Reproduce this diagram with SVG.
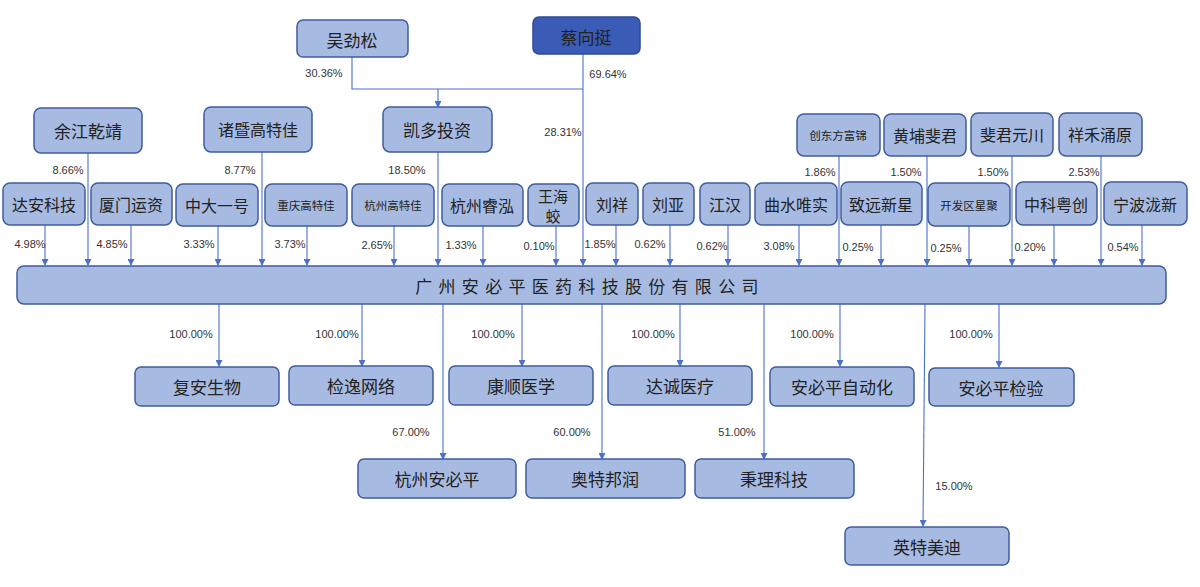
<svg xmlns="http://www.w3.org/2000/svg" width="1200" height="587" viewBox="0 0 1200 587">
<style>
.n{fill:#a7bbe2;stroke:#3f5c9c;stroke-width:1.5}
.d{fill:#3b5cb6;stroke:#2f4a94;stroke-width:1.5}
.t{font-family:"Noto Sans CJK SC","Noto Sans",sans-serif;font-size:16px;fill:#222;text-anchor:middle;dominant-baseline:central}
.s{font-size:11.5px}
.b{font-size:17px}
.w{font-size:15px}
.p{font-family:"Liberation Sans","Noto Sans",sans-serif;font-size:11px;fill:#333;text-anchor:middle;dominant-baseline:central}
.c line,.c polyline{stroke:#4a72c8;stroke-width:1.1;fill:none}
.a{marker-end:url(#ar)}
</style>
<defs>
<marker id="ar" markerUnits="userSpaceOnUse" markerWidth="7" markerHeight="7" refX="6" refY="3.5" orient="auto">
<path d="M0,0 L7,3.5 L0,7 z" fill="#4a72c8"/>
</marker>
</defs>
<rect width="1200" height="587" fill="#fff"/>

<g class="c" id="connectors">
<polyline points="352,57 352,89 583,89"/>
<line x1="438" y1="89" x2="438" y2="107" class="a"/>
<line x1="583" y1="54" x2="583" y2="265" class="a"/>
<line x1="88" y1="153" x2="88" y2="265" class="a"/>
<line x1="262" y1="152" x2="262" y2="265" class="a"/>
<line x1="438" y1="152" x2="438" y2="265" class="a"/>
<line x1="839" y1="156" x2="839" y2="265" class="a"/>
<line x1="927" y1="156" x2="927" y2="265" class="a"/>
<line x1="1012" y1="156" x2="1012" y2="265" class="a"/>
<line x1="1101" y1="156" x2="1101" y2="265" class="a"/>
<line x1="45" y1="225" x2="45" y2="265" class="a"/>
<line x1="131" y1="225" x2="131" y2="265" class="a"/>
<line x1="218" y1="225" x2="218" y2="265" class="a"/>
<line x1="307" y1="225" x2="307" y2="265" class="a"/>
<line x1="394" y1="225" x2="394" y2="265" class="a"/>
<line x1="483" y1="225" x2="483" y2="265" class="a"/>
<line x1="556" y1="225" x2="556" y2="265" class="a"/>
<line x1="616" y1="225" x2="616" y2="265" class="a"/>
<line x1="670" y1="225" x2="670" y2="265" class="a"/>
<line x1="728" y1="225" x2="728" y2="265" class="a"/>
<line x1="799" y1="225" x2="799" y2="265" class="a"/>
<line x1="881" y1="225" x2="881" y2="265" class="a"/>
<line x1="969" y1="225" x2="969" y2="265" class="a"/>
<line x1="1054" y1="225" x2="1054" y2="265" class="a"/>
<line x1="1142" y1="225" x2="1142" y2="265" class="a"/>
<line x1="219" y1="304" x2="219" y2="366" class="a"/>
<line x1="362" y1="304" x2="362" y2="366" class="a"/>
<line x1="522" y1="304" x2="522" y2="366" class="a"/>
<line x1="680" y1="304" x2="680" y2="366" class="a"/>
<line x1="840" y1="304" x2="840" y2="366" class="a"/>
<line x1="999" y1="304" x2="999" y2="367" class="a"/>
<line x1="443" y1="304" x2="443" y2="459" class="a"/>
<line x1="602" y1="304" x2="602" y2="459" class="a"/>
<line x1="764" y1="304" x2="764" y2="459" class="a"/>
<line x1="925" y1="304" x2="923" y2="526" class="a"/>
<g id="labels">
<text class="p" x="324" y="73">30.36%</text>
<text class="p" x="608" y="74">69.64%</text>
<text class="p" x="563" y="132">28.31%</text>
<text class="p" x="68" y="170">8.66%</text>
<text class="p" x="240" y="170">8.77%</text>
<text class="p" x="407" y="170">18.50%</text>
<text class="p" x="820" y="172">1.86%</text>
<text class="p" x="906" y="172">1.50%</text>
<text class="p" x="993" y="172">1.50%</text>
<text class="p" x="1084" y="172">2.53%</text>
<text class="p" x="30" y="244">4.98%</text>
<text class="p" x="112" y="244">4.85%</text>
<text class="p" x="199" y="244">3.33%</text>
<text class="p" x="290" y="244">3.73%</text>
<text class="p" x="377" y="245">2.65%</text>
<text class="p" x="461" y="245">1.33%</text>
<text class="p" x="539" y="246">0.10%</text>
<text class="p" x="600" y="244">1.85%</text>
<text class="p" x="650" y="244">0.62%</text>
<text class="p" x="712" y="246">0.62%</text>
<text class="p" x="779" y="246">3.08%</text>
<text class="p" x="858" y="247">0.25%</text>
<text class="p" x="946" y="248">0.25%</text>
<text class="p" x="1030" y="247">0.20%</text>
<text class="p" x="1123" y="247">0.54%</text>
<text class="p" x="191" y="334">100.00%</text>
<text class="p" x="337" y="334">100.00%</text>
<text class="p" x="493" y="334">100.00%</text>
<text class="p" x="653" y="334">100.00%</text>
<text class="p" x="812" y="334">100.00%</text>
<text class="p" x="971" y="334">100.00%</text>
<text class="p" x="411" y="432">67.00%</text>
<text class="p" x="572" y="432">60.00%</text>
<text class="p" x="737" y="432">51.00%</text>
<text class="p" x="954" y="486">15.00%</text>
</g>
</g>

<g id="n-wujinsong"><rect class="n" x="297" y="20" width="111" height="37" rx="6"/><text class="t b" x="352" y="39">吴劲松</text></g>
<g id="n-caixiangting"><rect class="d" x="533" y="17" width="107" height="37" rx="6"/><text class="t b" x="586" y="36">蔡向挺</text></g>
<g id="n-yujiang"><rect class="n" x="34" y="108" width="108" height="45" rx="7"/><text class="t b" x="88" y="130">余江乾靖</text></g>
<g id="n-zhuji"><rect class="n" x="204" y="107" width="108" height="45" rx="7"/><text class="t" x="258" y="129">诸暨高特佳</text></g>
<g id="n-kaiduo"><rect class="n" x="383" y="107" width="109" height="45" rx="7"/><text class="t b" x="437" y="129">凯多投资</text></g>
<g id="n-chuangdong"><rect class="n" x="797" y="114" width="83" height="42" rx="7"/><text class="t s" x="838" y="135">创东方富锦</text></g>
<g id="n-huangpu"><rect class="n" x="884" y="114" width="82" height="42" rx="7"/><text class="t" x="925" y="135">黄埔斐君</text></g>
<g id="n-feijun"><rect class="n" x="971" y="113" width="82" height="43" rx="7"/><text class="t" x="1012" y="134">斐君元川</text></g>
<g id="n-xianghe"><rect class="n" x="1059" y="113" width="83" height="43" rx="7"/><text class="t" x="1100" y="134">祥禾涌原</text></g>

<g id="n-daan"><rect class="n" x="3" y="183" width="82" height="42" rx="7"/><text class="t" x="44" y="204">达安科技</text></g>
<g id="n-xiamen"><rect class="n" x="91" y="183" width="81" height="42" rx="7"/><text class="t" x="131" y="204">厦门运资</text></g>
<g id="n-zhongda"><rect class="n" x="176" y="184" width="82" height="42" rx="7"/><text class="t" x="217" y="205">中大一号</text></g>
<g id="n-chongqing"><rect class="n" x="265" y="184" width="82" height="42" rx="7"/><text class="t s" x="306" y="205">重庆高特佳</text></g>
<g id="n-hzgtj"><rect class="n" x="352" y="184" width="82" height="42" rx="7"/><text class="t s" x="393" y="205">杭州高特佳</text></g>
<g id="n-hzrh"><rect class="n" x="442" y="184" width="81" height="42" rx="7"/><text class="t" x="482" y="205">杭州睿泓</text></g>
<g id="n-wanghj"><rect class="n" x="528" y="184" width="51" height="42" rx="7"/><text class="t w" x="553" y="195">王海</text><text class="t w" x="553" y="215">蛟</text></g>
<g id="n-liuxiang"><rect class="n" x="586" y="183" width="52" height="42" rx="7"/><text class="t" x="612" y="204">刘祥</text></g>
<g id="n-liuya"><rect class="n" x="643" y="183" width="51" height="42" rx="7"/><text class="t" x="668" y="204">刘亚</text></g>
<g id="n-jianghan"><rect class="n" x="700" y="183" width="50" height="42" rx="7"/><text class="t" x="725" y="204">江汉</text></g>
<g id="n-qushui"><rect class="n" x="755" y="183" width="82" height="42" rx="7"/><text class="t" x="796" y="204">曲水唯实</text></g>
<g id="n-zhiyuan"><rect class="n" x="841" y="182" width="81" height="43" rx="7"/><text class="t" x="881" y="204">致远新星</text></g>
<g id="n-kaifaqu"><rect class="n" x="928" y="183" width="82" height="43" rx="7"/><text class="t s" x="969" y="205">开发区星聚</text></g>
<g id="n-zhongke"><rect class="n" x="1016" y="182" width="81" height="43" rx="7"/><text class="t" x="1056" y="204">中科粤创</text></g>
<g id="n-ningbo"><rect class="n" x="1104" y="182" width="83" height="43" rx="7"/><text class="t" x="1145" y="204">宁波泷新</text></g>

<g id="n-main"><rect class="n" x="17" y="266" width="1149" height="38" rx="7"/><text class="t b" x="590" y="285" letter-spacing="6.3">广州安必平医药科技股份有限公司</text></g>

<g id="n-fuan"><rect class="n" x="135" y="367" width="144" height="39" rx="6"/><text class="t b" x="207" y="386">复安生物</text></g>
<g id="n-jianyi"><rect class="n" x="289" y="366" width="144" height="39" rx="6"/><text class="t b" x="361" y="385">检逸网络</text></g>
<g id="n-kangshun"><rect class="n" x="449" y="366" width="144" height="39" rx="6"/><text class="t b" x="521" y="385">康顺医学</text></g>
<g id="n-dacheng"><rect class="n" x="608" y="366" width="144" height="39" rx="6"/><text class="t b" x="680" y="385">达诚医疗</text></g>
<g id="n-abpzdh"><rect class="n" x="770" y="367" width="144" height="39" rx="6"/><text class="t b" x="842" y="386">安必平自动化</text></g>
<g id="n-abpjy"><rect class="n" x="929" y="368" width="145" height="38" rx="6"/><text class="t b" x="1001" y="387">安必平检验</text></g>
<g id="n-hzabp"><rect class="n" x="358" y="459" width="158" height="39" rx="6"/><text class="t b" x="437" y="478">杭州安必平</text></g>
<g id="n-aote"><rect class="n" x="526" y="459" width="159" height="39" rx="6"/><text class="t b" x="605" y="478">奥特邦润</text></g>
<g id="n-bingli"><rect class="n" x="695" y="459" width="159" height="39" rx="6"/><text class="t b" x="774" y="478">秉理科技</text></g>
<g id="n-yingte"><rect class="n" x="845" y="527" width="164" height="38" rx="6"/><text class="t b" x="927" y="546">英特美迪</text></g>
</svg>
